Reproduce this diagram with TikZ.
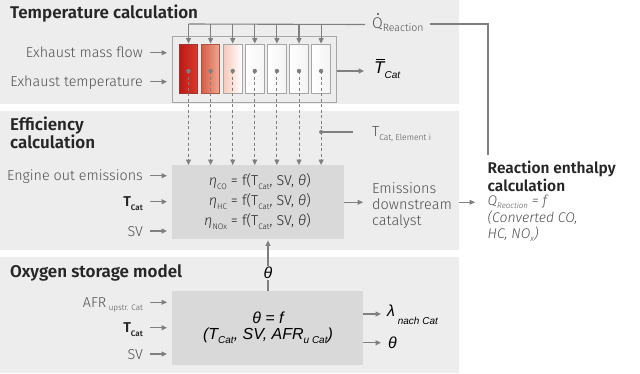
\documentclass[tikz,border=0pt]{standalone}
\usepackage{fontspec}
\setmainfont{Fira Sans Light}[BoldFont={Fira Sans SemiBold},ItalicFont={Fira Sans Light Italic}]
\newfontfamily\titlefont{Fira Sans SemiBold}
\newfontfamily\arialf{Liberation Sans}
\usetikzlibrary{arrows.meta,calc}
\definecolor{panelbg}{HTML}{EDEDED}
\definecolor{inbox}{HTML}{D9D9D9}
\definecolor{lblgray}{HTML}{4F4F4F}
\definecolor{arrgray}{HTML}{7F7F7F}
\definecolor{darktxt}{HTML}{262626}
\definecolor{cellborder}{HTML}{A6A6A6}
\newcommand\sbs[1]{\raisebox{-0.45ex}{\fontsize{8}{9}\selectfont #1}}
\newcommand\tbar{\ooalign{\hidewidth\kern0.12em\raisebox{0.8em}{\rule{0.5em}{0.07em}}\hidewidth\cr T\cr}}
\begin{document}
\begin{tikzpicture}[x=1pt,y=-1pt,
  panel/.style={fill=panelbg,draw=none},
  title/.style={font=\titlefont\fontsize{17}{18}\selectfont,text=darktxt,anchor=base west,inner sep=0,align=left},
  lbl/.style={font=\fontsize{14.3}{16}\selectfont,text=lblgray,anchor=east,inner sep=0,text height=11pt,text depth=1pt},
  arr/.style={draw=arrgray,line width=1.1pt,-{Triangle[length=5.5pt,width=5pt]}},
  plain/.style={draw=arrgray,line width=1.1pt},
  dasharr/.style={draw=arrgray,line width=1pt,dash pattern=on 3pt off 2.5pt,-{Triangle[length=5.5pt,width=5pt]}},
  cell/.style={draw=cellborder,line width=0.8pt,minimum width=18.5pt,minimum height=49pt,inner sep=0},
  gbox/.style={fill=inbox,draw=none,anchor=north west,inner sep=0},
  dotc/.style={fill=arrgray}
]
\useasboundingbox (0,0) rectangle (640,373);
% panels
\fill[panel] (0,0) rectangle (459,104);
\fill[panel] (0,111) rectangle (459,250);
\fill[panel] (0,257) rectangle (459,373);

% ---------- Temperature calculation ----------
\node[title] (t1) at (10,18) {Temperature calculation};
\node[draw=cellborder,line width=0.8pt,fill=panelbg,anchor=north west,minimum width=164pt,minimum height=66pt,inner sep=0] (cellbox) at (172,36) {};
\node[cell,draw=red!55!black!80,left color={rgb,255:red,190;green,25;blue,20},right color={rgb,255:red,215;green,62;blue,45}] (c1) at (188.5,68.5) {};
\node[cell,draw={rgb,255:red,170;green,85;blue,70},left color={rgb,255:red,214;green,92;blue,70},right color={rgb,255:red,240;green,170;blue,150}] (c2) at (210.6,68.5) {};
\node[cell,left color={rgb,255:red,247;green,200;blue,186},right color=white] (c3) at (232.7,68.5) {};
\node[cell,left color=white,right color={rgb,255:red,245;green,245;blue,245}] (c4) at (254.8,68.5) {};
\node[cell,left color=white,right color={rgb,255:red,243;green,243;blue,243}] (c5) at (276.9,68.5) {};
\node[cell,left color=white,right color={rgb,255:red,243;green,243;blue,243}] (c6) at (299,68.5) {};
\node[cell,left color=white,right color={rgb,255:red,243;green,243;blue,243}] (c7) at (321.1,68.5) {};

\coordinate (qy) at (0,24);
\coordinate (doty) at (0,71);
\foreach \i in {1,...,7}{
  \coordinate (d\i) at (c\i.center |- doty);
  \coordinate (q\i) at (c\i.north |- qy);
  \draw[arr] (q\i) -- (c\i.north);
}
\node[font=\fontsize{15.5}{17}\selectfont,text=lblgray,anchor=west,inner sep=0] (qr) at (372,24.5) {Q\raisebox{-0.45ex}{\fontsize{10.5}{11}\selectfont Reaction}};
\fill[lblgray] ([xshift=6pt,yshift=3pt]qr.north west) circle (1.1pt);
\draw[plain] (q1) -- ([xshift=-7pt]qr.west);
\coordinate (rc) at (488,24);
\coordinate (rend) at (488,155);
\draw[plain] ([xshift=6pt]qr.east |- qy) -- (rc) -- (rend);

\node[lbl] (emf) at (143,52.7) {Exhaust mass flow};
\node[lbl] (et) at (143,81.7) {Exhaust temperature};
\draw[arr] ([xshift=7pt]emf.east) -- ([xshift=-5pt]cellbox.west |- emf.east);
\draw[arr] ([xshift=7pt]et.east) -- ([xshift=-5pt]cellbox.west |- et.east);

\node[font=\arialf\itshape\fontsize{17}{18}\selectfont,text=black,anchor=west,inner sep=0] (tcat) at (374,69) {\tbar\raisebox{-0.55ex}{\fontsize{10}{11}\selectfont Cat}};
\draw[arr] (cellbox.east |- doty) -- ([xshift=-10pt]tcat.west |- doty);

% ---------- Efficiency calculation ----------
\node[title] (t2) at (10,148) {Efficiency\\calculation};
\node[gbox,minimum width=172pt,minimum height=74pt] (effbox) at (172,165) {};
\foreach \i in {1,...,7}{
  \draw[dasharr] (d\i) -- (d\i |- effbox.north);
  \fill[dotc] (d\i) circle (2.2pt);
}
\coordinate (tel) at (321.1,132);
\fill[dotc] (tel) circle (2pt);
\node[font=\fontsize{14.5}{16}\selectfont,text=lblgray,anchor=west,inner sep=0] (telab) at (372,134) {T\raisebox{-0.55ex}{\fontsize{8.5}{9}\selectfont Cat, Element i}};
\draw[plain] (tel) -- ([xshift=-19pt]telab.west |- tel);

\node[font=\fontsize{14.3}{20}\selectfont,text=darktxt,align=right,anchor=east,inner sep=0] (eqs) at (311,201.5)
 {\textit{η}\sbs{CO} = f(T\sbs{Cat}, SV, \textit{θ})\\
  \textit{η}\sbs{HC} = f(T\sbs{Cat}, SV, \textit{θ})\\
  \textit{η}\sbs{NOx} = f(T\sbs{Cat}, SV, \textit{θ})};

\node[lbl] (eoe) at (143,175.7) {Engine out emissions};
\node[lbl,text=darktxt] (tc2) at (143,201.7) {\textbf{T}\sbs{\bfseries Cat}};
\node[lbl] (sv2) at (143,231) {SV};
\foreach \n in {eoe,tc2,sv2}{
  \draw[arr] ([xshift=7pt]\n.east) -- ([xshift=-5pt]effbox.west |- \n.east);
}

\node[font=\fontsize{14.5}{16}\selectfont,text=lblgray,align=left,anchor=west,inner sep=0] (eds) at (372,205.3) {Emissions\\downstream\\catalyst};
\draw[arr] (effbox.east |- 0,202.3) -- (363,202.3);

\node[font=\titlefont\fontsize{15.5}{18}\selectfont,text=darktxt,align=left,anchor=north west,inner sep=0] (reh) at (487.5,160.5) {Reaction enthalpy\\calculation};
\node[font=\itshape\fontsize{14}{16.5}\selectfont,text=darktxt!80,align=left,anchor=north west,inner sep=0] (rf) at (487.5,195) {Q\sbs{\itshape Reaction} = f\\(Converted CO,\\HC, NO\sbs{\itshape x})};
\draw[arr] (459,202.3) -- (475,202.3);

% ---------- Oxygen storage model ----------
\node[title] (t3) at (10,277) {Oxygen storage model};
\node[gbox,minimum width=191pt,minimum height=74pt] (osbox) at (172,291) {};
\node[font=\arialf\itshape\fontsize{16}{16}\selectfont,text=black,align=center,inner sep=0] (osf) at (268,328) {θ = f\\(T\raisebox{-0.5ex}{\fontsize{10}{11}\selectfont Cat}, SV, AFR\raisebox{-0.5ex}{\fontsize{10}{11}\selectfont u Cat})};

\node[lbl] (afr) at (143,302.3) {AFR\,\sbs{upstr. Cat}};
\node[lbl,text=darktxt] (tc3) at (143,327.7) {\textbf{T}\sbs{\bfseries Cat}};
\node[lbl] (sv3) at (143,354) {SV};
\foreach \n in {afr,tc3,sv3}{
  \draw[arr] ([xshift=7pt]\n.east) -- ([xshift=-5pt]osbox.west |- \n.east);
}

\coordinate (thx) at (268,0);
\draw[arr] (osbox.north -| thx) -- ([yshift=-1pt]effbox.south -| thx);
\node[font=\arialf\itshape\fontsize{16}{16}\selectfont,fill=panelbg,inner sep=1pt] (thl) at (268,273) {θ};

\node[font=\arialf\itshape\fontsize{16}{16}\selectfont,anchor=west,inner sep=0] (lam) at (387,315) {λ\raisebox{-1ex}{\fontsize{10}{11}\selectfont\ nach Cat}};
\node[font=\arialf\itshape\fontsize{16}{16}\selectfont,anchor=west,inner sep=0] (tho) at (388,343) {θ};
\draw[arr] (osbox.east |- 0,314) -- (381,314);
\draw[arr] (osbox.east |- 0,342.7) -- (381,342.7);
\end{tikzpicture}
\end{document}
